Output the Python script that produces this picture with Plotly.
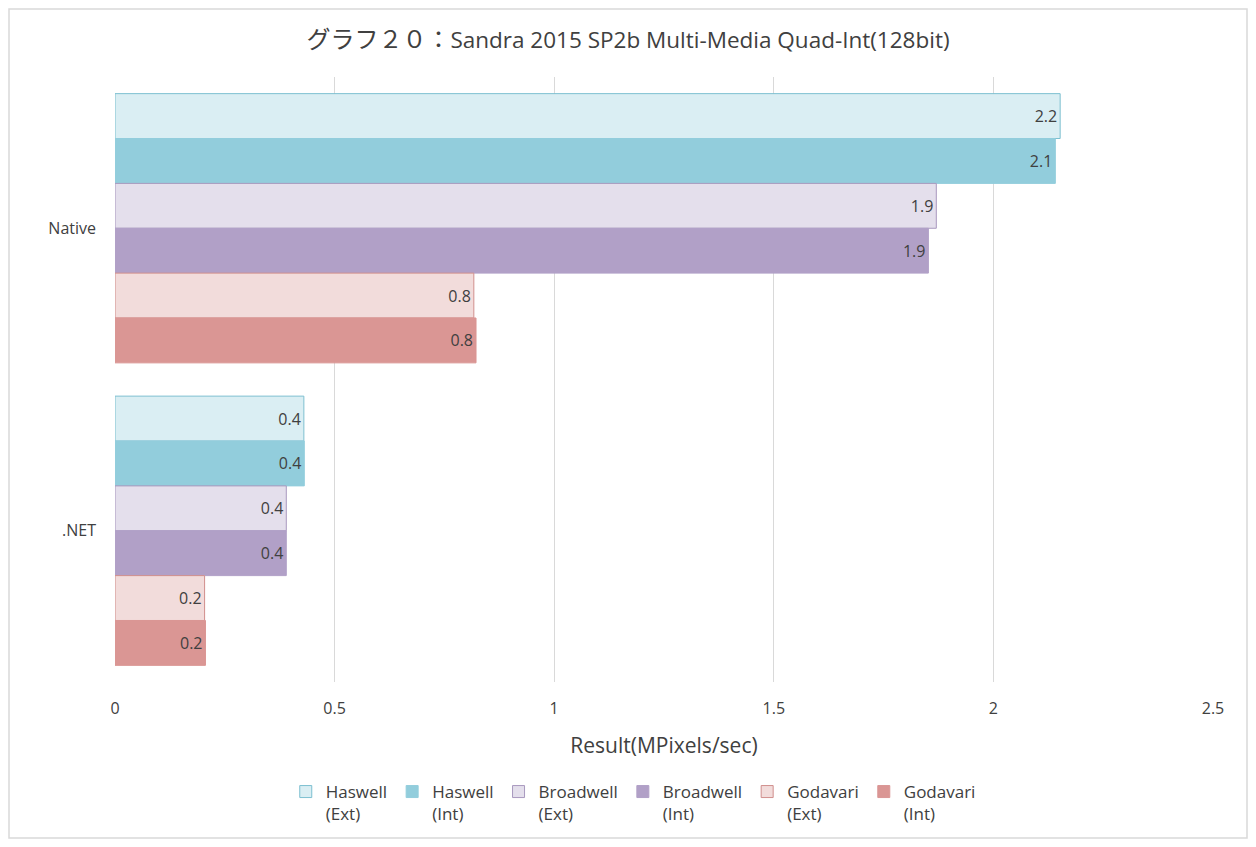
import plotly.graph_objects as go

# data
categories = ["Native", ".NET"]
series_names = ["Haswell<br>(Ext)", "Haswell<br>(Int)", "Broadwell<br>(Ext)",
                "Broadwell<br>(Int)", "Godavari<br>(Ext)", "Godavari<br>(Int)"]
haswell_ext = [2.152, 0.430]
haswell_int = [2.141, 0.431]
broadwell_ext = [1.870, 0.390]
broadwell_int = [1.852, 0.390]
godavari_ext = [0.817, 0.204]
godavari_int = [0.822, 0.206]

fill_colors = ["#DAEEF3", "#92CDDC", "#E4DFEC", "#B1A0C7", "#F2DCDB", "#DA9694"]
line_colors = ["#7DBFD0", "#92CDDC", "#A898BE", "#B1A0C7", "#D08E8C", "#DA9694"]

FONT = "Open Sans, Noto Sans CJK JP"

# page body has an 8px margin, so the figure is a bit smaller than the window
W, H = 1240, 831
ML, MR, MT, MB = 107, 35, 69, 157
PW, PH = W - ML - MR, H - MT - MB

fig = go.Figure()
all_values = [haswell_ext, haswell_int, broadwell_ext, broadwell_int, godavari_ext, godavari_int]
for name, vals, fc, lc in zip(series_names, all_values, fill_colors, line_colors):
    fig.add_trace(go.Bar(
        y=categories, x=vals, name=name, orientation="h",
        marker=dict(color=fc, line=dict(color=lc, width=1)),
        texttemplate="%{x:.1f}", textposition="inside", insidetextanchor="end",
        textfont=dict(family=FONT, size=16, color="#404040"),
        hoverinfo="x+y",
    ))

fig.update_layout(
    width=W, height=H,
    paper_bgcolor="white", plot_bgcolor="white",
    font=dict(family=FONT, color="#404040"),
    margin=dict(l=ML, r=MR, t=MT, b=MB, autoexpand=False),
    barmode="group", bargap=0.11, bargroupgap=0,
    title=dict(text="<span style='font-size:24px'>グラフ２０：</span>Sandra 2015 SP2b Multi-Media Quad-Int(128bit)",
               x=0.5, xanchor="center", y=1 - 32 / H, yanchor="middle",
               font=dict(family=FONT, size=22.5, color="#404040")),
    xaxis=dict(range=[0, 2.5], dtick=0.5, showgrid=True, gridcolor="#D9D9D9",
               zeroline=False, showline=False, ticks="", automargin=False,
               ticklabelstandoff=15,
               tickfont=dict(size=16, color="#404040"),
               title=dict(text="Result(MPixels/sec)", font=dict(size=21, color="#404040"),
                          standoff=20)),
    yaxis=dict(autorange="reversed", showgrid=False, showline=False, ticks="",
               automargin=False,
               ticklabelstandoff=18, tickfont=dict(size=16, color="#404040")),
    legend=dict(orientation="h", x=0.472, xanchor="center", y=-92 / PH, yanchor="top",
                font=dict(size=17, color="#404040"), itemwidth=30, valign="top",
                traceorder="normal"),
    uniformtext=dict(mode="show", minsize=10),
    shapes=[dict(type="rect", xref="paper", yref="paper",
                 x0=-(ML - 1) / PW, x1=1 + (MR - 1) / PW,
                 y0=-(MB - 1) / PH, y1=1 + (MT - 1) / PH,
                 line=dict(color="#D9D9D9", width=1.5), layer="below")],
)

fig.write_html("out.html")
